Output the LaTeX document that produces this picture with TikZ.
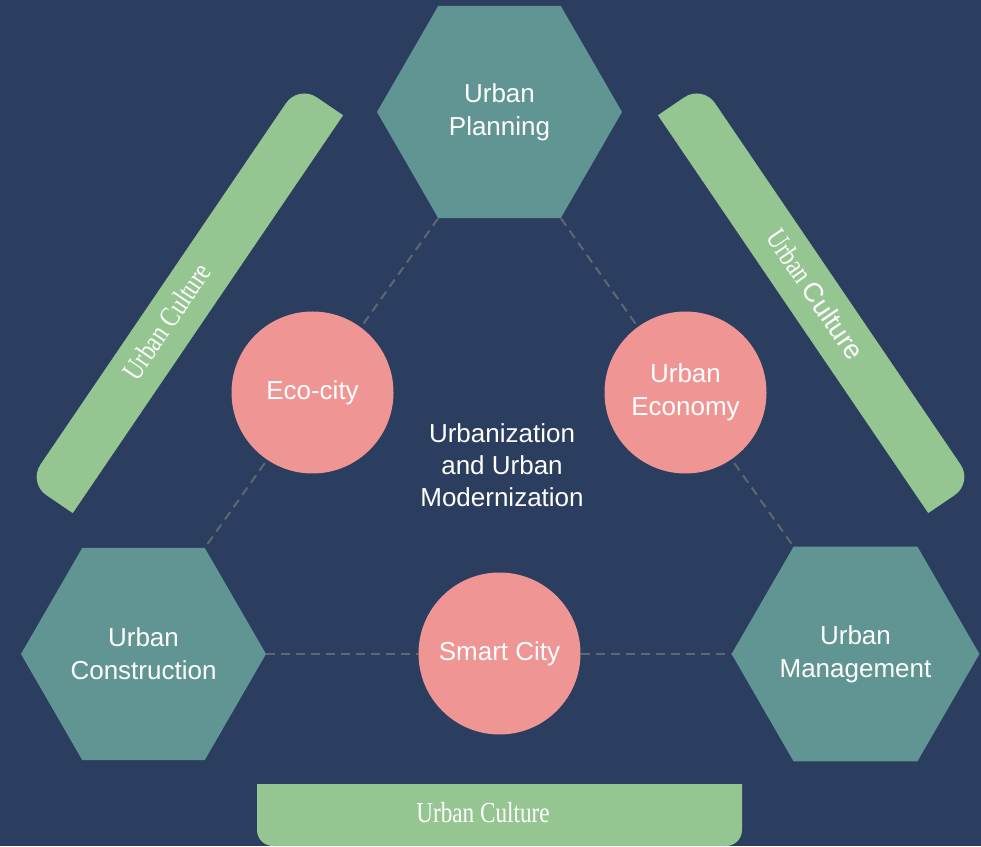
\documentclass[tikz,border=0pt]{standalone}
\usepackage{fontspec}
\setmainfont{Liberation Sans}
\newfontfamily\narrowserif[FakeStretch=0.8]{Liberation Serif}
\usepackage{tikz}
\usetikzlibrary{shapes.geometric}
\definecolor{navybg}{RGB}{43,62,96}
\definecolor{hexteal}{RGB}{96,149,147}
\definecolor{circpink}{RGB}{239,149,148}
\definecolor{bargreen}{RGB}{149,198,146}
\definecolor{linkgray}{RGB}{94,102,112}
\tikzset{
    tnode/.style = {align=center, inner sep=0pt, text centered, white, font=\fontsize{26}{33}\selectfont},
    hex_node/.style = {tnode, regular polygon, regular polygon sides=6, fill=hexteal, minimum size=245pt},
    circ_node/.style = {tnode, circle, fill=circpink, minimum size=162pt},
    culture_text/.style = {inner sep=0pt, white, font=\narrowserif\fontsize{29}{33}\selectfont},
    culture_bar/.style = {fill=bargreen},
    dash_link/.style = {draw=linkgray, line width=2pt, dash pattern=on 9pt off 6pt}
}

\begin{document}
\begin{tikzpicture}[x=1pt, y=1pt]
    \useasboundingbox (0,0) rectangle (981,846);
    \fill[navybg] (0,0) rectangle (981,846);

    \node [hex_node] (plan) at (499.5,734) {Urban\\Planning};
    \node [hex_node] (constr) at (143.5,192) {Urban\\Construction};
    \node [hex_node] (mgmt) at (855.5,192) {Urban\\Management};

    \draw [dash_link] (plan.corner 4) -- (constr.corner 1);
    \draw [dash_link] (plan.corner 5) -- (mgmt.corner 2);
    \draw [dash_link] (constr.corner 6) -- (mgmt.corner 3);

    \node [circ_node] (eco) at (312.5,453.5) {Eco-city};
    \node [circ_node] (econ) at (685.5,453.5) {Urban\\Economy};
    \node [circ_node] (smart) at (499.5,192.5) {Smart City};

    \node [tnode, font=\fontsize{26}{32}\selectfont] (core) at (502,381) {Urbanization\\and Urban\\Modernization};

    \begin{scope}[shift={(185.6,547)}, rotate=55.8]
        \fill [culture_bar] (-240.5,-27) -- (240.5,-27) -- (240.5,5)
            arc [start angle=0, end angle=90, radius=22] -- (-218.5,27)
            arc [start angle=90, end angle=180, radius=22] -- cycle;
        \node [culture_text, rotate=55.8] (cult_left) at (-29,3) {Urban Culture};
    \end{scope}

    \begin{scope}[shift={(815.4,547)}, rotate=-55.8]
        \fill [culture_bar] (-240.5,-27) -- (240.5,-27) -- (240.5,5)
            arc [start angle=0, end angle=90, radius=22] -- (-218.5,27)
            arc [start angle=90, end angle=180, radius=22] -- cycle;
        \node [culture_text, rotate=-55.8] (cult_right) at (-4,3) {Urban \normalfont\fontsize{27}{33}\selectfont Culture};
    \end{scope}

    \fill [culture_bar] (257,62) -- (257,16)
        arc [start angle=180, end angle=270, radius=16] -- (726,0)
        arc [start angle=270, end angle=360, radius=16] -- (742,62) -- cycle;
    \node [culture_text] (cult_bottom) at (483,33) {Urban Culture};
\end{tikzpicture}
\end{document}
